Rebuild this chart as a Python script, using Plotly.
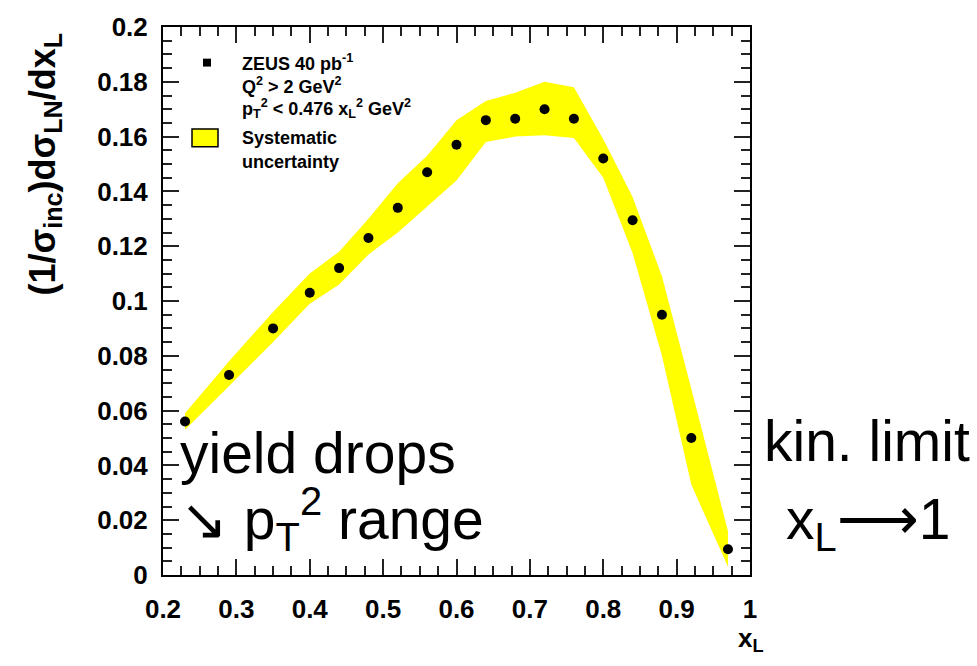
import plotly.graph_objects as go

# ZEUS leading-neutron x_L distribution (normalised to inclusive DIS)
x_l = [0.23, 0.29, 0.35, 0.40, 0.44, 0.48, 0.52, 0.56, 0.60, 0.64,
       0.68, 0.72, 0.76, 0.80, 0.84, 0.88, 0.92, 0.97]
dsigma = [0.056, 0.073, 0.090, 0.103, 0.112, 0.123, 0.134, 0.147, 0.157, 0.166,
          0.1665, 0.170, 0.1665, 0.152, 0.1295, 0.095, 0.050, 0.0094]
# systematic uncertainty band (upper / lower edges)
sys_up = [0.059, 0.078, 0.096, 0.110, 0.118, 0.130, 0.143, 0.153, 0.166, 0.173,
          0.176, 0.180, 0.178, 0.159, 0.138, 0.109, 0.068, 0.016]
sys_lo = [0.053, 0.069, 0.085, 0.099, 0.106, 0.117, 0.125, 0.1345, 0.144, 0.158,
          0.160, 0.1605, 0.1595, 0.145, 0.1175, 0.080, 0.033, 0.003]

x_ticks = [0.2, 0.3, 0.4, 0.5, 0.6, 0.7, 0.8, 0.9, 1.0]
x_tick_text = ["0.2", "0.3", "0.4", "0.5", "0.6", "0.7", "0.8", "0.9", "1"]
y_ticks = [0, 0.02, 0.04, 0.06, 0.08, 0.10, 0.12, 0.14, 0.16, 0.18, 0.20]
y_tick_text = ["0", "0.02", "0.04", "0.06", "0.08", "0.1", "0.12", "0.14",
               "0.16", "0.18", "0.2"]

W, H = 977, 666
L, R, T, B = 163, 750, 21, 575
FONT = "Liberation Sans, Arial, sans-serif"


def px(xp, yp):
    """pixel position -> paper coordinates"""
    return (xp - L) / (R - L), (B - yp) / (B - T)


fig = go.Figure()

# yellow systematic band
fig.add_trace(go.Scatter(
    x=x_l + x_l[::-1], y=sys_up + sys_lo[::-1],
    fill="toself", fillcolor="#ffff00", mode="none",
    line=dict(width=0), hoverinfo="skip", showlegend=False))

# data points
fig.add_trace(go.Scatter(
    x=x_l, y=dsigma, mode="markers",
    marker=dict(symbol="circle", size=10, color="black"),
    showlegend=False))

axis_common = dict(
    showline=True, linecolor="black", linewidth=2, mirror="ticks",
    ticks="inside", ticklen=16, tickwidth=1.5, tickcolor="#222",
    showgrid=False, zeroline=False,
    tickfont=dict(family=FONT, size=26, color="black", weight="bold"),
)

fig.update_xaxes(range=[0.2, 1.0], tickvals=x_ticks, ticktext=x_tick_text,
                 minor=dict(ticks="inside", ticklen=9, dtick=0.025, tick0=0.2,
                            tickwidth=1.5, tickcolor="#222", showgrid=False),
                 ticklabelstandoff=10, **axis_common)
fig.update_yaxes(range=[0, 0.2], tickvals=y_ticks, ticktext=y_tick_text,
                 minor=dict(ticks="inside", ticklen=9, dtick=0.005, tick0=0,
                            tickwidth=1.5, tickcolor="#222", showgrid=False),
                 ticklabelstandoff=8, **axis_common)

ann = []


def text(xp, yp, s, size, bold=False, color="black", xanchor="left",
         yanchor="middle", angle=0):
    x, y = px(xp, yp)
    ann.append(dict(x=x, y=y, xref="paper", yref="paper", text=s,
                    showarrow=False, xanchor=xanchor, yanchor=yanchor,
                    textangle=angle,
                    font=dict(family=FONT, size=size, color=color,
                              weight="bold" if bold else "normal")))


# axis titles
text(45, 160, "(1/σ<sub>inc</sub>)dσ<sub>LN</sub>/dx<sub>L</sub>", 36, bold=True,
     xanchor="center", angle=-90)
text(766, 640, "x<sub>L</sub>", 26, bold=True, xanchor="right")

# legend block
text(240, 57, "ZEUS 40 pb<sup>-1</sup>", 18, bold=True)
text(240, 80, "Q<sup>2</sup> > 2 GeV<sup>2</sup>", 18, bold=True)
text(240, 103, "p<sub>T</sub><sup>2</sup> < 0.476 x<sub>L</sub><sup>2</sup> GeV<sup>2</sup>",
     18, bold=True)
text(240, 133, "Systematic", 18, bold=True)
text(240, 157, "uncertainty", 18, bold=True)

shapes = []
sx0, sy0 = px(203, 61)
sx1, sy1 = px(211, 53)
shapes.append(dict(type="rect", xref="paper", yref="paper",
                   x0=sx0, y0=sy0, x1=sx1, y1=sy1,
                   fillcolor="black", line=dict(width=0)))
bx0, by0 = px(192, 142)
bx1, by1 = px(218, 124)
shapes.append(dict(type="rect", xref="paper", yref="paper",
                   x0=bx0, y0=by0, x1=bx1, y1=by1,
                   fillcolor="#ffff00", line=dict(color="black", width=1.5)))

# slide remarks
text(178, 452, "yield drops", 57)
text(178, 518, "↘ p<sub>T</sub><sup>2</sup> range", 57)
text(762, 440, "kin. limit", 57)
text(784, 522, "x<sub>L</sub>⟶1", 57)

# red heading running off the top edge
text(347, -9, "Integrated over p", 44, color="red", xanchor="right",
     yanchor="bottom")
text(587, -9, "at large x<sub>L</sub>", 44, color="red", xanchor="right",
     yanchor="bottom")
text(760, -9, "(θ<sub>n</sub> < 0.8)", 44, color="red", xanchor="left",
     yanchor="bottom")

fig.update_layout(
    width=W, height=H,
    margin=dict(l=L, r=W - R, t=T, b=H - B),
    plot_bgcolor="white", paper_bgcolor="white",
    annotations=ann, shapes=shapes, showlegend=False,
)

fig.write_html("out.html")
